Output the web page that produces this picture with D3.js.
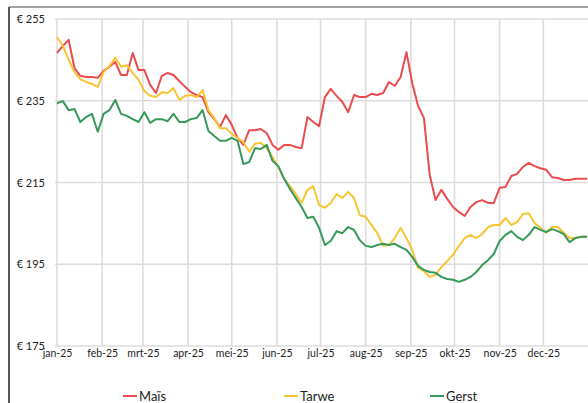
<!DOCTYPE html>
<html>
<head>
<meta charset="utf-8">
<script src="https://cdn.jsdelivr.net/npm/d3@7/dist/d3.min.js"></script>
<style>
body { margin: 0; background: #fff; }
svg text { font-family: Lato, "Open Sans", sans-serif; fill: #222; }
</style>
</head>
<body>
<div id="chart"></div>
<script>
// dates every 4 days through 2025
var dates = [
  "2025-01-01","2025-01-05","2025-01-09","2025-01-13","2025-01-17","2025-01-21","2025-01-25","2025-01-29",
  "2025-02-02","2025-02-06","2025-02-10","2025-02-14","2025-02-18","2025-02-22","2025-02-26",
  "2025-03-02","2025-03-06","2025-03-10","2025-03-14","2025-03-18","2025-03-22","2025-03-26","2025-03-30",
  "2025-04-03","2025-04-07","2025-04-11","2025-04-15","2025-04-19","2025-04-23","2025-04-27",
  "2025-05-01","2025-05-05","2025-05-09","2025-05-13","2025-05-17","2025-05-21","2025-05-25","2025-05-29",
  "2025-06-02","2025-06-06","2025-06-10","2025-06-14","2025-06-18","2025-06-22","2025-06-26","2025-06-30",
  "2025-07-04","2025-07-08","2025-07-12","2025-07-16","2025-07-20","2025-07-24","2025-07-28",
  "2025-08-01","2025-08-05","2025-08-09","2025-08-13","2025-08-17","2025-08-21","2025-08-25","2025-08-29",
  "2025-09-02","2025-09-06","2025-09-10","2025-09-14","2025-09-18","2025-09-22","2025-09-26","2025-09-30",
  "2025-10-04","2025-10-08","2025-10-12","2025-10-16","2025-10-20","2025-10-24","2025-10-28",
  "2025-11-01","2025-11-05","2025-11-09","2025-11-13","2025-11-17","2025-11-21","2025-11-25","2025-11-29",
  "2025-12-03","2025-12-07","2025-12-11","2025-12-15","2025-12-19","2025-12-23","2025-12-27","2025-12-31"
]

var mais = [
  246.7,248.4,249.9,243.0,241.1,240.8,240.8,240.6,
  242.3,243.3,244.5,241.3,241.3,246.7,242.5,
  242.5,238.9,236.9,241.1,241.8,241.3,239.8,238.4,
  237.1,236.4,235.9,232.2,230.5,228.6,231.5,
  229.1,225.9,224.2,227.8,227.8,228.1,227.1,224.2,
  223.0,224.2,224.2,223.7,223.4,231.0,229.8,228.8,
  235.9,237.9,236.2,234.7,232.2,236.4,235.9,
  235.9,236.7,236.4,236.9,239.6,238.6,240.8,246.9,
  239.3,233.7,230.8,216.8,210.7,213.2,211.0,209.0,
  207.8,206.8,209.0,210.2,210.7,210.0,210.0,
  213.7,213.9,216.6,217.1,218.8,219.8,219.0,218.5,
  218.1,216.3,216.1,215.6,215.6,215.9,215.9,215.9
]

var tarwe = [
  250.6,248.4,245.0,242.0,240.3,239.6,239.1,238.4,
  242.0,243.5,245.5,243.3,243.7,241.8,240.1,
  237.4,236.2,235.9,237.1,236.9,238.1,235.2,236.2,
  236.4,235.9,237.6,232.7,230.8,228.3,228.3,
  226.9,225.9,224.9,222.5,224.5,224.7,223.4,221.2,
  218.8,215.9,214.1,212.2,210.0,213.2,214.1,209.5,
  208.8,210.0,212.2,211.2,212.7,211.2,207.0,
  206.6,204.6,202.6,199.5,199.7,201.4,203.9,201.4,
  198.5,194.1,193.3,191.9,192.4,194.3,195.8,197.3,
  199.5,201.4,202.2,201.4,202.4,204.1,204.6,
  204.6,206.3,204.6,205.3,207.3,207.5,205.1,203.9,
  202.7,204.1,204.1,202.7,201.4,201.4,201.7,201.7
]

var gerst = [
  234.4,234.9,232.7,233.0,229.8,231.0,231.8,227.4,
  231.8,232.7,235.2,231.8,231.3,230.5,229.8,
  232.2,229.6,230.5,230.5,230.0,231.8,229.8,229.8,
  230.5,230.8,232.7,227.6,226.4,225.2,225.2,
  225.9,225.2,219.5,220.0,223.4,223.2,224.2,220.3,
  219.0,215.9,213.4,211.2,209.0,206.3,206.6,203.9,
  199.7,200.7,203.1,202.6,204.1,203.4,200.9,
  199.5,199.2,199.7,200.0,199.7,200.0,199.2,198.5,
  196.8,194.6,193.6,193.1,192.9,191.9,191.4,191.2,
  190.7,191.2,191.9,193.1,194.8,196.0,197.5,
  200.7,202.2,203.1,201.7,200.9,202.2,204.1,203.4,
  202.9,203.6,203.1,202.4,200.4,201.4,201.7,201.7
]

var seriesNames = ["Maïs", "Tarwe", "Gerst"]
var seriesColors = ["#ea4b4d", "#f7c533", "#36985a"]
var monthLabels = ["jan-25","feb-25","mrt-25","apr-25","mei-25","jun-25","jul-25","aug-25","sep-25","okt-25","nov-25","dec-25"]
var yTicks = [175, 195, 215, 235, 255]

var parse = d3.timeParse("%Y-%m-%d")
var dateObjs = dates.map(parse)

var svg = d3.select("#chart").append("svg")
    .attr("width", 588)
    .attr("height", 403)

var x = d3.scaleTime()
    .domain([new Date(2025, 0, 1), new Date(2025, 11, 31)])
    .range([57, 587])

var y = d3.scaleLinear()
    .domain([175, 255])
    .range([346, 19])

var monthTicks = d3.timeMonth.range(new Date(2025, 0, 1), new Date(2026, 0, 1))

// grid
svg.append("g")
    .selectAll("line")
    .data(yTicks)
    .enter()
    .append("line")
    .attr("x1", 55)
    .attr("x2", 588)
    .attr("y1", function (d) { return y(d) })
    .attr("y2", function (d) { return y(d) })
    .attr("stroke", "#dcdcdc")
    .attr("stroke-width", 1.6)

svg.append("g")
    .selectAll("line")
    .data(monthTicks)
    .enter()
    .append("line")
    .attr("x1", function (d) { return x(d) })
    .attr("x2", function (d) { return x(d) })
    .attr("y1", y(255))
    .attr("y2", y(175))
    .attr("stroke", "#dcdcdc")
    .attr("stroke-width", 1.6)

// frame
svg.append("line")
    .attr("x1", 9).attr("x2", 588)
    .attr("y1", 7).attr("y2", 7)
    .attr("stroke", "#444").attr("stroke-width", 1.2)
svg.append("line")
    .attr("x1", 9).attr("x2", 9)
    .attr("y1", 7).attr("y2", 403)
    .attr("stroke", "#222").attr("stroke-width", 1.5)

// axes labels
var yAxis = d3.axisLeft(y)
    .tickValues(yTicks)
    .tickSize(0)
    .tickPadding(0)
    .tickFormat(function (d) { return "€ " + d })
var gy = svg.append("g")
    .attr("transform", "translate(45,0)")
    .call(yAxis)
gy.select(".domain").remove()
gy.selectAll("text")
    .style("font-family", "Lato, sans-serif")
    .style("font-size", "11px")
    .attr("fill", "#222")

var xAxis = d3.axisBottom(x)
    .tickValues(monthTicks)
    .tickSize(0)
    .tickPadding(4)
    .tickFormat(function (d, i) { return monthLabels[i] })
var gx = svg.append("g")
    .attr("transform", "translate(0,346)")
    .call(xAxis)
gx.select(".domain").remove()
gx.selectAll("text")
    .style("font-family", "Lato, sans-serif")
    .style("font-size", "10.5px")
    .attr("fill", "#222")

// lines
var allSeries = [mais, tarwe, gerst]
var line = d3.line()
    .x(function (d, i) { return x(dateObjs[i]) })
    .y(function (d) { return y(d) })

svg.selectAll("path.series")
    .data(allSeries)
    .enter()
    .append("path")
    .attr("class", "series")
    .attr("d", line)
    .attr("fill", "none")
    .attr("stroke", function (d, i) { return seriesColors[i] })
    .attr("stroke-width", 2)
    .attr("stroke-linejoin", "round")

// legend
var legendX = [123, 284, 430]
var legend = svg.selectAll("g.legend")
    .data(seriesNames)
    .enter()
    .append("g")
    .attr("class", "legend")
    .attr("transform", function (d, i) { return "translate(" + legendX[i] + ",396)" })
legend.append("line")
    .attr("x1", 0).attr("x2", 14)
    .attr("stroke", function (d, i) { return seriesColors[i] })
    .attr("stroke-width", 2)
legend.append("text")
    .attr("x", 16)
    .attr("dy", "0.35em")
    .style("font-size", "13px")
    .text(function (d) { return d })
</script>
</body>
</html>
